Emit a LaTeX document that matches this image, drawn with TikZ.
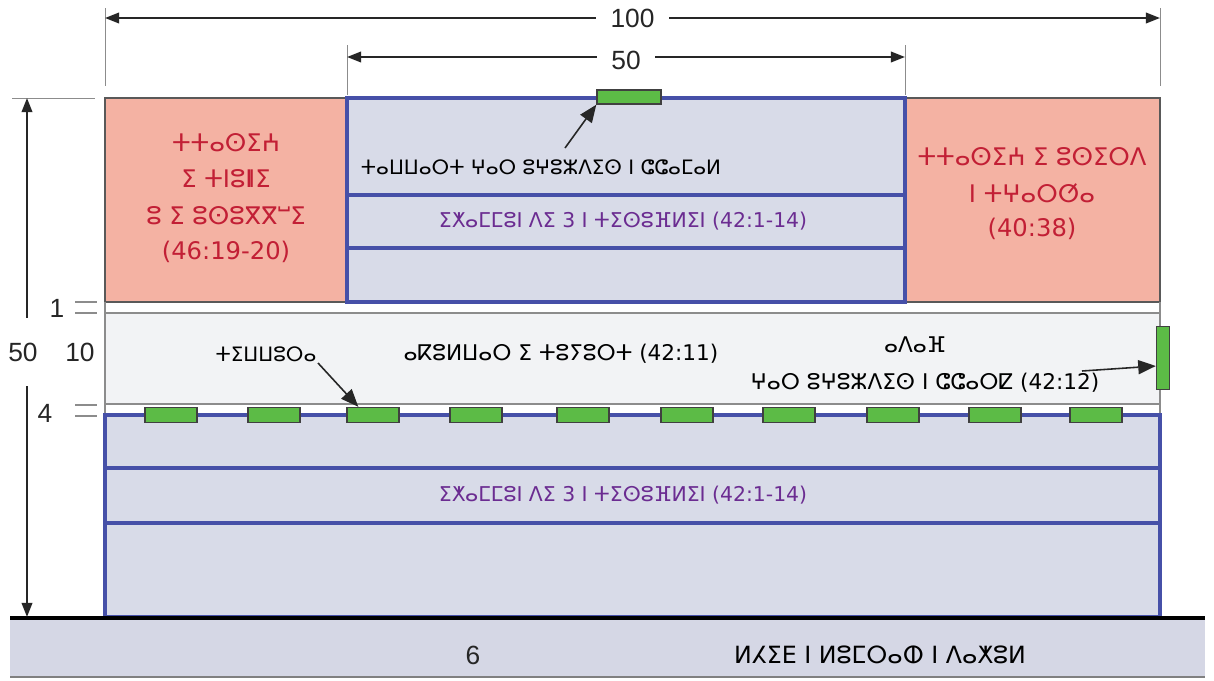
\documentclass[tikz,border=0pt]{standalone}
\usepackage{fontspec}
\setmainfont{DejaVu Sans}
\newfontfamily\numfont{Liberation Sans}
\usetikzlibrary{arrows.meta,calc}
\definecolor{pinkf}{HTML}{F4B2A3}
\definecolor{lav}{HTML}{D8DBE8}
\definecolor{blueb}{HTML}{4650A8}
\definecolor{walkf}{HTML}{F2F3F5}
\definecolor{greenf}{HTML}{5CBB46}
\definecolor{redt}{HTML}{C21F35}
\definecolor{purp}{HTML}{6B2C91}
\definecolor{groundf}{HTML}{D5D7E5}
\begin{document}
\begin{tikzpicture}[x=0.02cm,y=-0.02cm,
  pinkbox/.style={fill=pinkf,draw=black!65,line width=0.7pt},
  bluebox/.style={fill=lav,draw=blueb,line width=2.2pt},
  greybox/.style={draw=black!45,line width=0.9pt},
  greenr/.style={rectangle,fill=greenf,draw=black!75,line width=0.8pt,minimum width=1.04cm,minimum height=0.3cm,inner sep=0pt},
  dimline/.style={draw=black!85,line width=1.1pt,{Triangle[length=8pt,width=6pt]}-{Triangle[length=8pt,width=6pt]}},
  extl/.style={draw=black!45,line width=0.5pt},
  pointer/.style={draw=black!85,line width=0.9pt,-{Triangle[length=10pt,width=8pt]}},
  numlbl/.style={font=\numfont\fontsize{15}{18}\selectfont,text=black!85,inner sep=3pt},
  redtxt/.style={font=\fontsize{13.8}{16}\selectfont,text=redt},
  blktxt/.style={font=\fontsize{11.3}{13}\selectfont,text=black},
  purtxt/.style={font=\fontsize{11.6}{13}\selectfont,text=purp},
]
\useasboundingbox (0,0) rectangle (1214,680);
\fill[white] (0,0) rectangle (1214,680);
% ground band
\fill[groundf] (10,620) rectangle (1205,677);
\draw[black!50,line width=0.8pt] (10,677) -- (1205,677);
% upper side boxes
\draw[pinkbox] (105,98) rectangle (347,302);
\draw[pinkbox] (905,98) rectangle (1160,302);
% upper centre building
\draw[bluebox] (347,98) rectangle (905,195);
\draw[bluebox] (347,195) rectangle (905,248);
\draw[bluebox] (347,248) rectangle (905,302);
% strips and walkway
\draw[greybox] (105,302) -- (105,313) (1160,302) -- (1160,313);
\draw[greybox,fill=walkf] (105,313) rectangle (1160,404);
\draw[greybox] (105,404) -- (105,415) (1160,404) -- (1160,415);
% lower building
\draw[bluebox] (105,415) rectangle (1160,468);
\draw[bluebox] (105,468) rectangle (1160,523);
\draw[bluebox] (105,523) rectangle (1160,617);
% ground line
\draw[line width=2.4pt] (10,618) -- (1205,618);
% green openings
\foreach \n/\xx in {1/171,2/274,3/373,4/476,5/583,6/687,7/789,8/893,9/995,10/1096}
  \node[greenr] (g\n) at (\xx,415) {};
\node[greenr,minimum width=1.28cm,minimum height=0.28cm] (gtop) at (629,97) {};
\node[greenr,minimum width=0.26cm,minimum height=1.26cm] (gright) at (1163,358) {};
% dimension lines
\draw[extl] (105,8) -- (105,86) (1160,8) -- (1160,86);
\draw[extl] (347,45) -- (347,95) (905,45) -- (905,95);
\coordinate (a1) at (105,18); \coordinate (a2) at (1160,18);
\coordinate (b1) at (347,57); \coordinate (b2) at (905,57);
\draw[dimline] (a1) -- node[numlbl,fill=white,inner xsep=8pt] (l100) {100} (a2);
\draw[dimline] (b1) -- node[numlbl,fill=white,inner xsep=8pt,yshift=-2pt] (l50) {50} (b2);
\draw[extl] (12,98) -- (95,98);
\coordinate (c1) at (27,98); \coordinate (c2) at (27,617);
\draw[dimline] (c1) -- (c2);
\node[numlbl,fill=white,inner ysep=14pt,inner xsep=4pt] (l50v) at (23,352) {50};
\node[numlbl] (l10) at (80,352) {10};
\node[numlbl] (l1) at (57,308) {1};
\node[numlbl] (l4) at (45,413) {4};
\draw[extl,line width=0.8pt] (75,302) -- (97,302) (75,313) -- (97,313);
\draw[extl,line width=0.8pt] (75,405) -- (97,405) (75,416) -- (97,416);
% pointers
\coordinate (p1s) at (565,148);
\draw[pointer] (p1s) -- (gtop.south west);
\coordinate (p2s) at (318,363);
\draw[pointer] (p2s) -- ($(g3.north west)+(12,0)$);
\coordinate (p3s) at (1082,371);
\draw[pointer] (p3s) -- ($(gright.west)+(0,8)$);
% texts
\node[redtxt] (tl1) at (226,143) {ⵜⵜⴰⵙⵉⵄ};
\node[redtxt] (tl2) at (226,179) {ⵉ ⵜⵏⵓⵏ\kern-.18emⵏⵉ};
\node[redtxt] (tl3) at (226,216) {ⵓ ⵉ ⵓⵙⵓⴳⴳⵯⵉ};
\node[redtxt] (tl4) at (226,252) {(46:19-20)};
\node[redtxt] (tr1) at (1032,157) {ⵜⵜⴰⵙⵉⵄ ⵉ ⵓⵙⵉⵔⴷ};
\node[redtxt] (tr2) at (1032,193) {ⵏ ⵜⵖⴰⵔⵚⴰ};
\node[redtxt] (tr3) at (1032,229) {(40:38)};
\node[blktxt] (tc1) at (541,167) {ⵜⴰⵡⵡⴰⵔⵜ ⵖⴰⵔ ⵓⵖⵓⵣⴷⵉⵙ ⵏ ⵛⵛⴰⵎⴰⵍ};
\node[purtxt] (tc2) at (623,221) {ⵉⵅⴰⵎⵎⵓⵏ ⴷⵉ 3 ⵏ ⵜⵉⵙⵓⴼⵍⵉⵏ (42:1-14)};
\node[purtxt] (tb2) at (623,495) {ⵉⵅⴰⵎⵎⵓⵏ ⴷⵉ 3 ⵏ ⵜⵉⵙⵓⴼⵍⵉⵏ (42:1-14)};
\node[blktxt] (tw1) at (266,354) {ⵜⵉⵡⵡⵓⵔⴰ};
\node[blktxt,font=\fontsize{12.3}{14}\selectfont] (tw2) at (561,354) {ⴰⴽⵓⵍⵡⴰⵔ ⵉ ⵜⵓⵢⵓⵔⵜ (42:11)};
\node[blktxt,font=\fontsize{12.3}{14}\selectfont] (tw3) at (915,345) {ⴰⴷⴰⴼ};
\node[blktxt,font=\fontsize{12.3}{14}\selectfont] (tw4) at (925,383) {ⵖⴰⵔ ⵓⵖⵓⵣⴷⵉⵙ ⵏ ⵛⵛⴰⵔⵇ (42:12)};
\node[numlbl] (t6) at (473,655) {6};
\node[blktxt,font=\fontsize{13.5}{15}\selectfont] (tg) at (880,655) {ⵍⵃⵉⴹ ⵏ ⵍⵓⵎⵔⴰⵀ ⵏ ⴷⴰⵅⵓⵍ};
\end{tikzpicture}
\end{document}
